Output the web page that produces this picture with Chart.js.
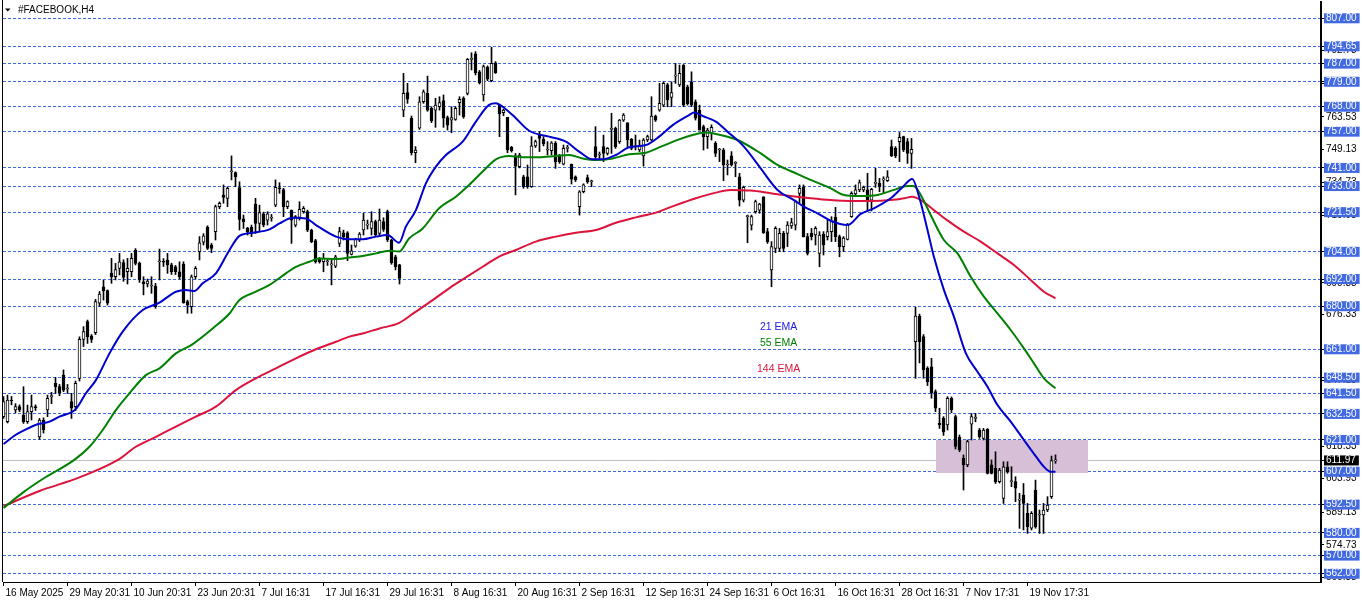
<!DOCTYPE html>
<html><head><meta charset="utf-8">
<script src="https://cdn.jsdelivr.net/npm/chart.js@4.4.1/dist/chart.umd.min.js"></script>
<style>html,body{margin:0;padding:0;background:#fff;overflow:hidden}canvas{display:block}</style>
</head><body>
<canvas id="c" width="1362" height="603"></canvas>
<script>
// ---- Candles (H4 bars, index 0 = 16 May 2025) ----
const barOpen = [631.3,629.1,638.6,634.2,635.7,632.0,629.1,633.5,635.7,622.4,629.8,634.2,640.1,646.0,644.5,649.6,643.5,637.9,635.7,648.2,665.4,673.2,666.9,668.3,681.3,688.6,686.9,694.5,693.0,696.7,699.3,695.2,695.2,704.8,698.9,690.8,689.8,688.9,688.9,699.6,699.6,700.4,698.2,697.4,695.2,698.6,682.0,679.8,693.0,704.1,708.2,714.8,707.0,712.9,723.9,729.0,727.6,739.3,739.0,732.3,718.5,714.3,714.8,725.1,716.5,720.7,718.0,718.8,724.6,732.0,731.5,723.9,722.4,715.8,719.2,721.7,721.7,713.6,708.9,701.1,699.6,699.6,698.2,697.7,707.7,712.4,712.4,702.9,706.5,709.2,713.6,715.8,714.3,717.3,712.1,717.3,721.7,709.2,701.8,698.2,766.5,774.2,762.9,747.7,758.5,770.2,773.9,767.3,766.5,768.0,770.7,763.2,762.1,762.4,769.8,771.7,773.9,788.9,791.3,783.4,773.2,785.4,779.5,787.4,768.7,765.4,763.3,750.1,746.3,741.6,737.1,737.1,732.7,750.7,755.5,753.6,748.9,748.6,751.8,746.3,742.7,749.6,742.7,737.1,723.9,730.5,736.7,734.9,750.4,746.7,750.4,747.4,758.0,758.5,752.6,762.1,760.9,753.6,750.4,748.9,746.3,753.3,753.3,763.9,766.5,768.7,777.6,772.1,781.5,777.6,786.4,776.8,779.0,770.2,766.5,759.2,754.8,756.2,751.8,748.9,748.9,742.3,746.3,743.0,737.1,726.8,719.5,715.8,721.7,722.4,728.3,712.9,696.0,705.5,705.5,712.1,712.1,715.4,715.8,729.8,732.7,710.7,712.1,711.4,703.3,711.7,710.7,712.9,719.2,710.7,706.3,709.5,719.5,729.5,731.3,731.3,731.3,726.8,734.2,734.2,735.7,735.4,750.4,749.6,752.6,754.8,752.6,747.4,664.4,675.6,666.6,652.6,653.3,642.3,628.3,630.5,627.6,639.4,631.3,622.2,612.9,610.0,628.0,630.5,625.4,621.7,625.7,610.0,608.5,602.6,595.2,609.2,602.6,602.6,594.5,596.7,588.6,582.1,598.9,587.9,587.9,590.1,596.0,611.8];
const barHigh = [640.1,640.8,640.2,637.0,636.5,644.5,636.4,640.8,636.5,630.5,630.8,640.8,642.0,648.6,645.5,651.9,645.5,641.6,647.0,666.5,671.0,673.9,667.5,683.0,686.5,691.5,687.2,701.1,698.9,703.3,700.5,701.1,703.3,705.4,699.5,693.0,692.0,693.0,690.1,705.2,701.0,703.3,699.0,698.0,699.6,699.6,682.7,693.8,697.5,710.7,712.0,715.5,707.7,724.6,726.0,733.5,732.7,746.3,739.3,734.9,720.2,714.8,715.8,727.6,724.6,721.5,721.7,720.5,735.7,734.5,732.0,726.5,722.4,720.0,726.1,724.0,722.4,714.0,709.5,701.5,703.3,701.0,701.1,702.5,714.8,713.6,712.9,707.0,710.0,712.5,721.0,718.0,721.7,718.0,722.9,719.0,722.4,709.5,702.5,698.5,782.7,778.3,763.9,750.4,772.4,775.4,781.5,768.0,771.7,772.4,773.2,763.9,768.0,768.0,772.4,772.4,789.3,791.8,792.3,784.0,786.4,786.0,794.2,787.9,768.7,767.0,763.3,750.5,747.4,747.5,737.8,742.3,754.8,753.3,757.0,754.8,752.6,752.6,752.6,747.0,751.1,751.0,742.7,737.5,731.0,734.0,737.9,735.6,759.2,748.0,755.5,750.0,765.1,759.0,762.4,765.0,761.0,754.0,755.5,753.3,754.0,755.5,772.4,764.3,778.3,779.0,778.3,779.0,787.1,786.4,786.6,777.5,783.4,771.0,768.7,759.9,758.5,760.0,752.6,749.6,749.6,744.5,748.2,743.8,738.6,733.0,720.2,720.2,726.8,725.4,728.3,714.3,708.5,715.1,714.3,713.0,717.3,718.8,726.8,733.5,733.5,712.1,714.3,715.1,712.9,712.9,718.0,719.5,723.6,711.4,710.7,716.5,730.5,733.5,735.7,733.0,738.6,732.0,740.8,736.4,737.1,739.8,753.3,750.4,756.6,755.0,754.0,754.0,679.5,676.5,667.5,653.3,657.0,643.1,635.0,631.3,640.1,640.0,632.0,623.2,614.4,621.0,632.7,632.7,626.1,626.1,626.0,612.2,615.8,608.5,611.4,611.4,609.2,604.8,597.5,601.8,593.0,589.4,603.3,590.1,593.0,596.0,613.9,614.4];
const barLow = [630.5,628.5,636.5,633.0,633.5,628.3,628.3,629.8,634.0,621.3,624.0,631.3,637.0,641.5,640.5,642.3,641.5,630.5,634.0,647.0,662.2,663.6,664.0,667.5,680.0,682.7,680.5,690.1,691.6,693.8,691.0,689.8,693.0,698.2,690.5,685.0,688.5,685.7,679.1,691.6,697.5,694.5,694.0,694.0,692.0,681.3,676.9,676.9,692.0,700.4,707.0,705.0,703.6,709.2,723.0,725.4,723.9,735.7,732.7,713.6,714.3,711.4,710.7,712.1,712.9,715.0,715.8,717.5,723.9,729.8,719.5,723.0,707.7,715.0,718.0,721.0,712.9,708.0,699.0,699.0,695.2,698.0,689.4,697.0,706.3,709.2,700.1,702.6,706.0,708.5,711.4,714.0,711.4,711.0,710.7,713.0,708.5,698.5,696.0,689.8,763.6,769.5,746.7,743.3,758.0,769.5,766.0,761.0,758.9,766.5,758.9,757.7,756.5,762.0,764.3,762.9,773.2,784.2,782.0,778.0,770.5,779.5,779.0,782.7,754.8,764.0,747.7,748.0,729.1,741.0,732.0,732.0,732.4,750.0,748.2,750.7,746.7,746.7,740.8,743.0,742.3,748.0,733.9,735.0,720.2,730.0,734.2,732.7,744.5,745.0,743.8,746.7,747.4,749.6,751.8,761.5,750.4,749.0,748.9,748.2,741.8,752.6,753.0,761.5,766.0,768.0,768.0,768.0,778.3,776.9,768.0,768.7,768.0,762.1,757.7,748.9,749.6,753.3,746.0,743.8,735.4,737.9,741.8,737.1,724.2,726.0,708.0,713.6,721.0,721.0,712.1,707.7,688.6,703.6,704.1,704.0,706.3,714.3,713.6,725.4,710.5,702.6,709.2,707.0,697.4,702.6,709.2,708.5,708.5,701.8,704.1,709.2,719.2,728.3,730.5,730.5,722.4,722.0,732.4,730.5,729.8,735.0,746.0,745.5,743.8,748.2,743.0,740.8,648.2,655.0,648.2,645.0,639.4,633.5,626.1,623.0,625.4,633.0,617.0,615.8,598.9,609.2,621.0,629.0,621.7,621.0,606.0,606.0,601.8,602.0,593.0,606.3,600.4,593.8,582.0,581.3,579.8,581.3,582.1,579.8,579.8,589.4,595.2,610.7];
const barClose = [637.9,638.6,638.2,635.7,634.2,629.1,633.5,635.7,635.2,629.8,625.4,639.4,640.3,644.5,641.6,643.0,643.7,635.0,646.0,665.4,668.8,666.6,665.4,682.0,685.4,686.9,681.3,693.0,696.2,699.6,692.7,696.7,701.1,698.9,691.6,689.8,691.1,689.0,679.8,699.7,699.4,698.2,695.2,695.2,693.0,681.6,680.5,693.0,696.7,708.0,711.1,705.5,705.5,723.9,725.4,728.0,732.0,739.4,737.1,718.3,717.3,712.9,712.1,716.5,721.3,715.8,720.7,718.9,732.4,731.8,723.9,726.1,718.0,719.5,722.7,723.2,713.6,708.5,699.6,699.6,701.1,699.8,698.3,701.8,712.9,710.7,703.3,704.4,709.5,711.8,718.0,716.1,717.3,711.4,718.0,713.9,709.2,699.2,697.4,692.3,773.9,771.3,747.7,748.9,770.2,774.6,766.5,761.8,768.7,769.8,762.9,759.9,763.2,767.3,771.3,763.6,788.9,789.0,783.0,778.6,785.7,780.1,787.1,783.0,764.8,766.5,748.9,748.6,741.8,746.7,732.7,732.7,750.7,752.6,754.0,751.6,749.0,752.1,743.8,743.8,749.6,749.7,736.0,735.7,730.5,733.5,734.9,735.0,746.0,746.8,747.4,749.6,758.1,750.4,762.1,764.3,753.3,749.6,750.5,751.1,753.3,754.8,763.9,762.1,769.5,778.3,771.0,774.2,781.6,782.7,768.7,769.2,768.7,762.9,757.7,754.8,757.7,758.9,747.4,749.0,742.3,742.4,742.3,743.1,726.8,732.4,719.6,719.5,726.1,725.1,712.4,708.5,706.3,714.3,712.1,705.5,715.8,716.9,726.1,732.0,710.7,703.3,710.7,714.3,711.4,707.0,712.9,717.3,710.7,706.3,710.0,715.8,729.8,731.3,734.5,732.4,726.8,731.6,734.3,732.7,735.8,737.1,746.3,746.3,754.5,748.9,747.4,749.2,675.6,664.4,651.9,646.7,641.6,635.0,627.6,624.6,639.4,634.2,618.1,616.6,610.0,620.3,631.3,630.6,622.4,625.4,606.3,606.3,602.6,607.7,609.2,607.0,602.7,599.7,594.6,593.0,582.8,588.6,582.8,588.0,590.1,592.3,611.9,611.97];

// ---- Moving averages (bar index, price) ----
const ema21Bars = [0,3,5,8,11.5,14,18,20.6,23.1,26.5,29.8,34.8,39,43.1,45.6,47.7,49.8,53.1,56.5,59,62.3,66.5,69,72.3,75.6,78.1,83.1,86.5,89.8,93.1,96,98.9,100.6,103.1,105.6,108.1,110.6,114.8,118.1,121.4,123.1,124.8,128.1,131.4,136.4,140.6,143.9,147.3,149.8,153.1,156.4,160.6,163.9,167.3,171.4,172.7,174.8,178.1,181,185.1,189.3,193.5,197.6,200.1,203.5,206.8,211,214.3,217.6,221.8,224.7,227.2,228.9,231,232.6,235.1,237.6,240.6,243.5,246,248.5,251.8,255.1,258,260.1,261.8,263];
const ema21Vals = [619.2,623.2,625.1,627.6,629.1,631.3,634.5,641.6,647.4,659.2,668.8,678.3,681.6,686.4,687.2,686.7,690.1,694.5,704.8,711.0,712.4,713.9,716.5,719.0,718.7,715.8,710.7,709.5,709.5,710.7,711.4,708.0,715.1,722.4,734.2,741.6,746.7,752.6,761.4,768.8,769.5,768.0,762.9,757.4,754.8,752.6,748.2,744.8,744.8,746.7,750.1,751.1,754.8,759.9,764.3,765.4,763.9,761.4,757.0,750.4,740.8,731.3,726.8,723.9,721.0,717.7,715.8,720.7,723.2,727.6,732.4,736.1,728.3,713.6,701.8,687.2,675.4,659.2,651.1,644.5,636.4,629.1,621.0,614.0,609.2,607.0,607.0];
const ema55Bars = [0,5,10,17.7,21.5,24.8,28.1,31.5,35.6,39,43.1,47.3,52.3,56.5,59,63.1,66.5,70.6,73.1,76.5,79,83.1,86.5,89.8,93.1,96.4,98.9,101.4,104.8,108.9,113.1,116.4,119.8,123.1,126.4,129.8,133.9,138.1,141.4,144.8,148.1,152.3,156.4,160.6,164.8,168.9,172.3,175.6,178.1,183.5,189.3,193.5,198.5,201.8,206.8,210.1,214.3,218.5,222.6,226,227.5,229.3,231.8,235.1,238.5,241.8,245.1,248.5,251.8,255.1,257.6,260.1,263];
const ema55Vals = [591.0,598.0,604.0,612.2,618.0,625.4,634.2,641.6,649.6,652.6,659.2,663.3,670.2,676.8,682.7,686.4,689.4,694.5,697.4,699.6,701.1,700.8,701.5,702.1,703.3,704.5,704.1,709.9,714.3,723.2,728.3,733.5,739.4,744.8,746.3,745.7,745.7,746.3,746.7,745.2,744.5,745.2,747.0,747.7,750.7,753.6,755.5,756.6,756.0,753.3,747.4,742.3,738.3,735.7,732.0,729.1,728.6,729.1,731.3,733.0,733.0,729.1,720.2,709.2,703.3,693.0,684.2,676.8,669.5,661.4,654.8,648.2,643.8];
const ema144Bars = [0,9,19,28.6,33.1,38.1,43.1,48.1,53.1,58.1,63.1,68.1,73.1,78.1,83.1,86.5,89.8,94,98.8,103,107.3,111.4,115.6,119.8,123.9,128.1,133.1,138.1,143.1,148.1,153.1,158.1,163.1,168.1,173.1,178.1,181.8,186.8,191.8,196.8,201.8,206.8,211.8,216.8,221.8,225.1,227.2,229.3,232.6,235.9,240.1,244.3,248.5,252.6,256.8,260.1,263];
const ema144Vals = [591.8,598.5,604.5,612.2,618.0,622.4,626.9,631.3,635.7,643.0,648.2,652.6,657.0,661.0,664.3,666.6,668.0,670.2,672.5,677.5,682.7,687.9,692.7,697.4,701.9,704.8,708.5,710.7,712.4,713.6,716.8,719.2,721.3,724.6,727.6,730.1,731.3,731.0,729.8,728.6,727.6,726.8,726.4,726.4,726.8,727.6,728.3,726.8,722.4,718.0,712.9,708.5,703.3,698.2,691.6,686.4,683.5];

// ---- Axis labels ----
const timeTickBars = [0,16,32,48,64,80,96,112,128,144,160,176,192,208,224,240,256];
const timeTickLabels = ["16 May 2025","29 May 20:31","10 Jun 20:31","23 Jun 20:31","7 Jul 16:31","17 Jul 16:31","29 Jul 16:31","8 Aug 16:31","20 Aug 16:31","2 Sep 16:31","12 Sep 16:31","24 Sep 16:31","6 Oct 16:31","16 Oct 16:31","28 Oct 16:31","7 Nov 17:31","19 Nov 17:31"];
const scalePrices = [792.73,778.13,763.53,749.13,734.73,719.93,690.33,676.33,647.13,618.33,603.93,589.13,574.73,560.33];
const levelPrices = [807.00,794.65,787.00,779.00,768.00,757.00,741.00,733.00,721.50,704.00,692.00,680.00,661.00,648.50,641.50,632.50,621.00,607.00,592.50,580.00,570.00,562.00];
const currentPrice = 611.97;
const zoneTop = 621.0, zoneBottom = 606.4, zoneStartBar = 233.1, zoneEndBar = 271.1;
const symbolTitle = "#FACEBOOK,H4";
const emaNames = ["21 EMA","55 EMA","144 EMA"];

// ---- styles ----
const FONT = "'Liberation Sans', Arial, sans-serif";
const LEVEL_BLUE = 'rgb(65,105,225)';
const C21 = '#0000CD', C55 = '#008000', C144 = '#DC143C';

const isLevel = v => levelPrices.some(p => Math.abs(p - v) < 1e-6);
const isCurrent = v => Math.abs(v - currentPrice) < 1e-6;
const yTickValues = [...scalePrices, ...levelPrices, currentPrice];

const idx = barClose.map((_, i) => i);
const wickData = barLow.map((l, i) => [l, barHigh[i]]);
const bodyData = barOpen.map((o, i) => [o, barClose[i]]);
const bodyFill = barClose.map((c, i) => c >= barOpen[i] ? '#ffffff' : '#000000');
const pts = (xs, ys) => xs.map((x, i) => ({x, y: ys[i]}));

const overlay = {
  id: 'overlay',
  beforeDatasetsDraw(chart) {
    const {ctx, scales: {x, y}} = chart;
    ctx.save();
    ctx.fillStyle = 'rgb(216,191,216)';
    const x1 = x.getPixelForValue(zoneStartBar), x2 = x.getPixelForValue(zoneEndBar);
    const y1 = y.getPixelForValue(zoneTop), y2 = y.getPixelForValue(zoneBottom);
    ctx.fillRect(Math.round(x1), Math.round(y1), Math.round(x2 - x1), Math.round(y2 - y1));
    ctx.restore();
  },
  afterDraw(chart) {
    const {ctx, chartArea} = chart;
    ctx.save();
    ctx.fillStyle = '#000';
    ctx.fillRect(2, 0, 1, chartArea.bottom);
    ctx.beginPath();
    ctx.moveTo(5, 8.5); ctx.lineTo(10.5, 8.5); ctx.lineTo(7.75, 11.5); ctx.closePath(); ctx.fill();
    ctx.font = '10px ' + FONT;
    ctx.textBaseline = 'middle'; ctx.textAlign = 'left';
    ctx.fillText(symbolTitle, 18, 10.5);
    ctx.font = '10.5px ' + FONT;
    ctx.fillStyle = '#2020E0'; ctx.fillText(emaNames[0], 760, 327);
    ctx.fillStyle = C55; ctx.fillText(emaNames[1], 760, 343);
    ctx.fillStyle = C144; ctx.fillText(emaNames[2], 757, 369.5);
    ctx.restore();
  }
};

new Chart(document.getElementById('c'), {
  type: 'bar',
  data: {
    labels: idx,
    datasets: [
      {type: 'line', data: pts(ema21Bars, ema21Vals), borderColor: C21, borderWidth: 2, pointRadius: 0, cubicInterpolationMode: 'monotone', order: 0},
      {type: 'line', data: pts(ema55Bars, ema55Vals), borderColor: C55, borderWidth: 2, pointRadius: 0, cubicInterpolationMode: 'monotone', order: 0},
      {type: 'line', data: pts(ema144Bars, ema144Vals), borderColor: C144, borderWidth: 2, pointRadius: 0, cubicInterpolationMode: 'monotone', order: 0},
      {data: bodyData, backgroundColor: bodyFill, borderColor: '#000', borderWidth: 1, borderSkipped: false, barThickness: 3, minBarLength: 1, grouped: false, order: 1},
      {data: wickData, backgroundColor: '#000', borderWidth: 0, barThickness: 1, grouped: false, order: 2}
    ]
  },
  options: {
    responsive: false,
    animation: false,
    devicePixelRatio: 1,
    layout: {padding: {left: 3, top: 2, right: 0, bottom: 0}},
    plugins: {legend: {display: false}, tooltip: {enabled: false}},
    events: [],
    scales: {
      x: {
        type: 'linear', min: -0.125, max: 329.375, offset: false,
        afterBuildTicks: s => { s.ticks = timeTickBars.map(v => ({value: v})); },
        afterFit: s => { s.height = 21; s.paddingLeft = 0; s.paddingRight = 0; },
        grid: {drawOnChartArea: false, drawTicks: true, tickLength: 4, color: '#000', tickColor: '#000', offset: false},
        border: {display: true, color: '#000', width: 1},
        ticks: {
          autoSkip: false, maxRotation: 0, minRotation: 0, align: 'start', labelOffset: 2, padding: 1,
          color: '#000', font: {family: FONT, size: 10},
          callback: (v, i) => timeTickLabels[i]
        }
      },
      y: {
        type: 'linear', position: 'right', min: 558.35, max: 814.19, beginAtZero: false,
        afterBuildTicks: s => { s.ticks = yTickValues.map(v => ({value: v})); },
        afterFit: s => { s.width = 41; s.paddingTop = 0; s.paddingBottom = 0; },
        grid: {
          drawTicks: true, tickLength: 3, tickColor: '#000', lineWidth: 1,
          color: c => c.tick ? (isCurrent(c.tick.value) ? 'rgb(192,192,192)' : (isLevel(c.tick.value) ? LEVEL_BLUE : 'rgba(0,0,0,0)')) : '#000'
        },
        border: {display: true, color: '#000', width: 2, dash: c => (c.tick && isLevel(c.tick.value)) ? [3, 2] : []},
        ticks: {
          autoSkip: false, padding: 2,
          font: {family: FONT, size: 10, lineHeight: 1},
          showLabelBackdrop: true,
          backdropPadding: {left: 2, right: 3, top: 0, bottom: 0},
          backdropColor: c => isCurrent(c.tick.value) ? '#000' : (isLevel(c.tick.value) ? LEVEL_BLUE : 'rgba(0,0,0,0)'),
          color: c => (isCurrent(c.tick.value) || isLevel(c.tick.value)) ? '#fff' : '#000',
          callback: v => Number(v).toFixed(2)
        }
      }
    }
  },
  plugins: [overlay]
});
</script>
</body></html>
